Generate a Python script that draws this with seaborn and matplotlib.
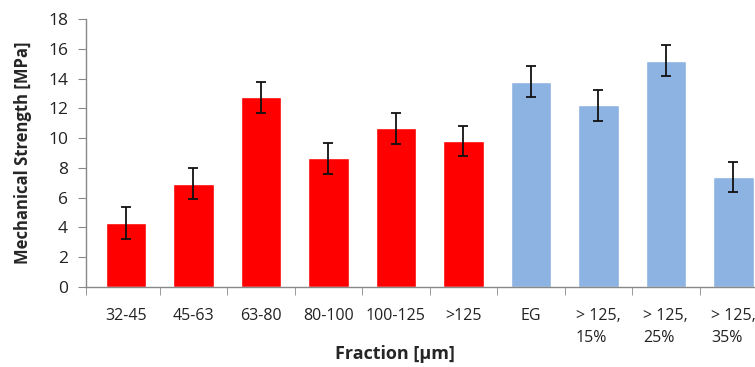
import numpy as np
import pandas as pd
import seaborn as sns
import matplotlib.pyplot as plt

# values
fractions = ['32-45', '45-63', '63-80', '80-100', '100-125', '>125', 'EG',
             '> 125,\n15%', '> 125,\n25%', '> 125,\n35%']
strength = [4.3, 6.95, 12.75, 8.65, 10.65, 9.8, 13.8, 12.2, 15.2, 7.4]
errors = [1.05, 1.05, 1.05, 1.05, 1.05, 1.03, 1.05, 1.02, 1.05, 1.03]
groups = ['red'] * 6 + ['blue'] * 4

sns.set_style('white')
plt.rcParams['font.family'] = ['Open Sans', 'DejaVu Sans']

df = pd.DataFrame({'Fraction': fractions, 'Strength': strength,
                   'Error': errors, 'Group': groups})
colors = {'red': '#FF0000', 'blue': '#8DB3E2'}

fig = plt.figure(figsize=(7.55, 3.67), dpi=100)
ax = fig.add_axes([0.1139, 0.218, 0.902, 0.730])

sns.barplot(data=df, x='Fraction', y='Strength', hue='Group', palette=colors,
            dodge=False, width=0.6, saturation=1, legend=False, ax=ax, errorbar=None)
ax.errorbar(np.arange(len(df)), df['Strength'], yerr=df['Error'], fmt='none',
            ecolor='#111111', elinewidth=1.3, capsize=3.7, capthick=1.3)

left = -0.59
ax.set_xlim(left, len(df) - 0.5)
ax.set_ylim(0, 18)
ax.set_yticks(range(0, 19, 2))
ax.tick_params(axis='y', labelsize=12.5, length=6, color='#888888', direction='out',
               left=True, pad=7, labelcolor='#222222')
ax.tick_params(axis='x', which='major', labelsize=11.5, length=0, pad=15,
               labelcolor='#222222')
ax.set_xticks([left] + list(np.arange(len(df) - 1) + 0.5), minor=True)
ax.tick_params(axis='x', which='minor', length=6, color='#888888', direction='out', bottom=True)
for lab in ax.get_xticklabels():
    lab.set_linespacing(1.55)
    lab.set_multialignment('left')

for s in ['top', 'right']:
    ax.spines[s].set_visible(False)
for s in ['left', 'bottom']:
    ax.spines[s].set_color('#888888')
    ax.spines[s].set_linewidth(1)

ax.set_ylabel('Mechanical Strength [MPa]', fontsize=12, fontweight='bold')
ax.yaxis.set_label_coords(-0.079, 0.5)
ax.set_xlabel('Fraction [µm]', fontsize=13, fontweight='bold')
ax.xaxis.set_label_coords(0.453, -0.218)

fig.savefig('out.png', dpi=100)
